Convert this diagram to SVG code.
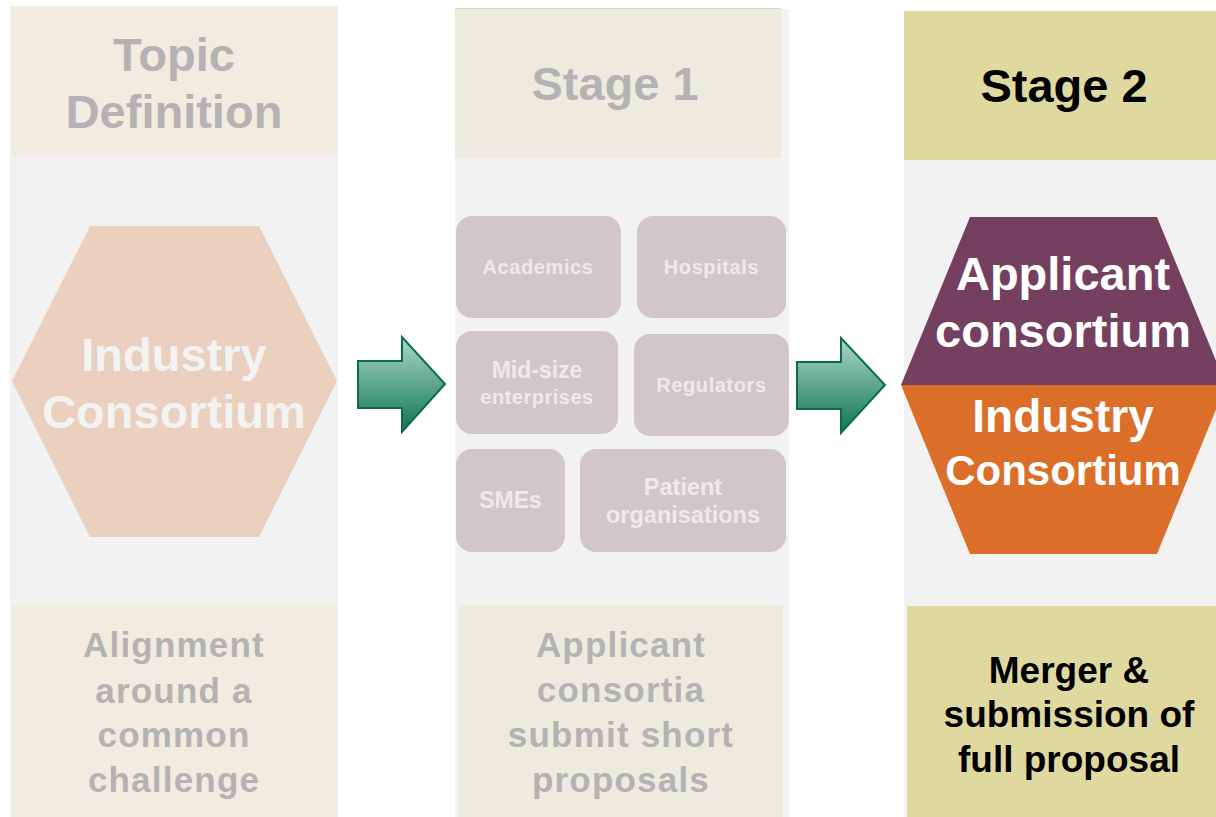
<svg xmlns="http://www.w3.org/2000/svg" width="1216" height="817" viewBox="0 0 1216 817">
<defs>
<linearGradient id="arrowGrad" x1="0" y1="0" x2="0" y2="1">
<stop offset="0" stop-color="#ABD8C7"/>
<stop offset="1" stop-color="#0F7454"/>
</linearGradient>
<style>
text{font-family:"Liberation Sans",Arial,sans-serif;font-weight:bold;text-anchor:middle}
.colbg{fill:#F2F2F2}
.beige{fill:#F2EBDF}
.ivory{fill:#EDEBDE}
.khaki{fill:#DFD9A0}
.gtxt{fill:#B3B3B3}
.title{font-size:47px}
.cap{font-size:35px;letter-spacing:1.2px}
.box{fill:#D3C5CC}
.btxt{fill:#EEEAEC}
.small{font-size:20px;letter-spacing:0.6px}
.mid{font-size:23.5px}
.arrow{fill:url(#arrowGrad);stroke:#0C6B4E;stroke-width:2;stroke-linejoin:miter}
.wtxt{fill:#FFFFFF}
</style>
</defs>
<rect width="1216" height="817" fill="#FFFFFF"/>

<g id="col-topic">
<rect class="colbg" x="10" y="6" width="328" height="811"/>
<rect class="beige" x="11" y="6" width="327" height="151"/>
<text class="gtxt title" x="174" y="71">Topic</text>
<text class="gtxt title" x="174" y="128">Definition</text>
</g>
<g id="hex-industry-faded">
<polygon points="90,226 259,226 337,381 259,537 90,537 12,381" fill="#EBD0BF"/>
<text x="174" y="371" font-size="47" fill="#F3F3F3">Industry</text>
<text x="174" y="428" font-size="47" fill="#F3F3F3">Consortium</text>
</g>
<g id="caption-topic">
<rect class="beige" x="12" y="605" width="326" height="212"/>
<text class="gtxt cap" x="174" y="657">Alignment</text>
<text class="gtxt cap" x="174" y="703">around a</text>
<text class="gtxt cap" x="174" y="747">common</text>
<text class="gtxt cap" x="174" y="792">challenge</text>
</g>

<g id="col-stage1">
<rect class="colbg" x="455" y="9" width="334" height="808"/>
<rect class="ivory" x="455" y="8" width="326" height="150"/>
<line x1="455" y1="8.5" x2="781" y2="8.5" stroke="#DCD8B8" stroke-width="1"/>
<text class="gtxt title" x="615" y="100">Stage 1</text>
</g>
<g id="box-academics">
<rect class="box" x="456" y="216" width="165" height="102" rx="16"/>
<text class="btxt small" x="538" y="274">Academics</text>
</g>
<g id="box-hospitals">
<rect class="box" x="637" y="216" width="149" height="102" rx="16"/>
<text class="btxt small" x="711.5" y="274">Hospitals</text>
</g>
<g id="box-midsize">
<rect class="box" x="456" y="331" width="162" height="103" rx="16"/>
<text class="btxt" x="537" y="378" font-size="23">Mid-size</text>
<text class="btxt" x="537" y="404" font-size="20" letter-spacing="0.5">enterprises</text>
</g>
<g id="box-regulators">
<rect class="box" x="634" y="334" width="155" height="102" rx="16"/>
<text class="btxt small" x="711.5" y="392">Regulators</text>
</g>
<g id="box-smes">
<rect class="box" x="456" y="449" width="109" height="103" rx="16"/>
<text class="btxt" x="510.5" y="508" font-size="23">SMEs</text>
</g>
<g id="box-patients">
<rect class="box" x="580" y="449" width="206" height="103" rx="16"/>
<text class="btxt mid" x="683" y="495">Patient</text>
<text class="btxt mid" x="683" y="523">organisations</text>
</g>
<g id="caption-stage1">
<rect class="ivory" x="459" y="605" width="324" height="212"/>
<text class="gtxt cap" x="621" y="657">Applicant</text>
<text class="gtxt cap" x="621" y="702">consortia</text>
<text class="gtxt cap" x="621" y="747">submit short</text>
<text class="gtxt cap" x="621" y="792">proposals</text>
</g>

<g id="col-stage2">
<rect class="colbg" x="904" y="11" width="312" height="806"/>
<rect class="khaki" x="904" y="11" width="312" height="149"/>
<text x="1064" y="102" font-size="47" fill="#000000">Stage 2</text>
</g>
<g id="hex-merged">
<polygon points="970,217 1157,217 1226,385 901,385" fill="#753F60"/>
<polygon points="901,385 1226,385 1157,554 970,554" fill="#DB6F29"/>
<text class="wtxt" x="1063" y="290" font-size="47">Applicant</text>
<text class="wtxt" x="1063" y="347" font-size="47">consortium</text>
<text class="wtxt" x="1063" y="432" font-size="46">Industry</text>
<text class="wtxt" x="1063" y="485" font-size="42">Consortium</text>
</g>
<g id="caption-stage2">
<rect class="khaki" x="907" y="606" width="309" height="211"/>
<text x="1069" y="683" font-size="37" fill="#000000">Merger &amp;</text>
<text x="1069" y="727" font-size="37" fill="#000000">submission of</text>
<text x="1069" y="772" font-size="37" fill="#000000">full proposal</text>
</g>

<g id="connectors">
<polygon class="arrow" points="358,361 402,361 402,337 445,384 402,432 402,408 358,408"/>
<polygon class="arrow" points="797,362 841,362 841,338 885,385 841,433 841,409 797,409"/>
</g>
</svg>
